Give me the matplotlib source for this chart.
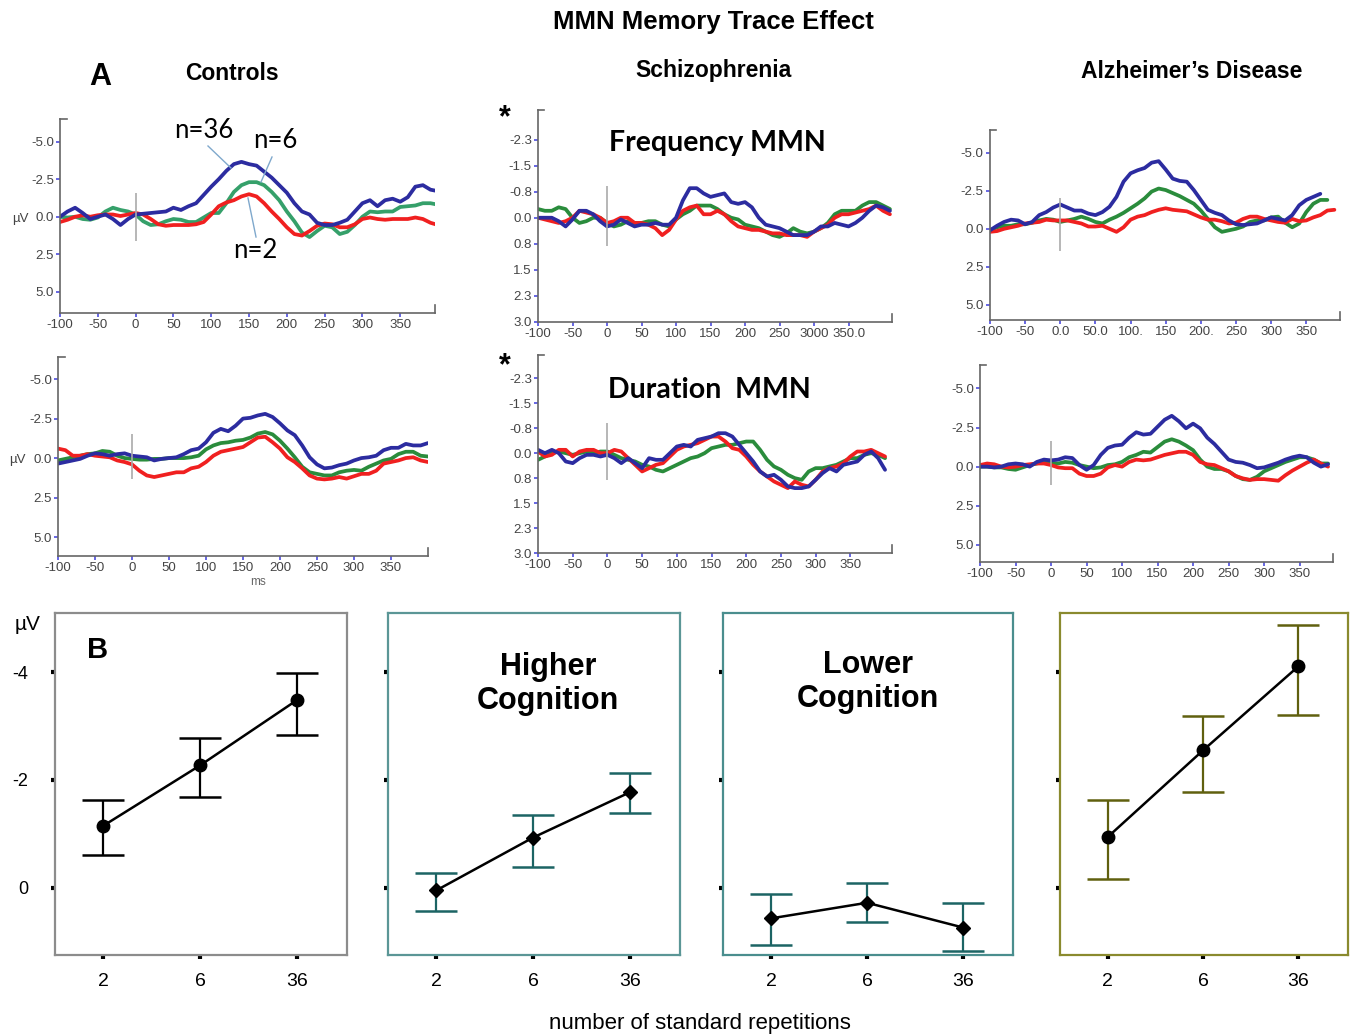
import numpy as np
import matplotlib
matplotlib.use("Agg")
import matplotlib.pyplot as plt
from matplotlib.lines import Line2D

plt.rcParams['font.family'] = ['Liberation Sans', 'DejaVu Sans']

W, H = 1351, 1035

# sampling times (ms) for the ERP traces
t = np.arange(-100, 420, 10)

# ---- A: ERP traces (uV, negative up), n=36 blue, n=6 green, n=2 red ----
ctl_freq_36 = [0.0, -0.35, -0.6, -0.25, 0.15, 0.0, -0.15, 0.15, 0.55, 0.15,
               -0.15, -0.2, -0.25, -0.3, -0.35, -0.6, -0.45, -0.7, -0.9, -1.45,
               -2.0, -2.5, -3.05, -3.5, -3.65, -3.5, -3.4, -3.0, -2.6, -2.1,
               -1.6, -0.9, -0.35, -0.15, 0.4, 0.55, 0.55, 0.4, 0.2, -0.35,
               -0.9, -1.1, -0.7, -1.1, -1.2, -1.0, -1.3, -2.0, -2.1, -1.8, -1.7]
ctl_freq_6 = [0.0, 0.05, 0.0, 0.15, 0.2, 0.05, -0.35, -0.6, -0.45, -0.35,
              -0.15, 0.3, 0.55, 0.5, 0.3, 0.15, 0.2, 0.35, 0.35, 0.05,
              -0.25, -0.25, -0.9, -1.65, -2.1, -2.3, -2.3, -2.1, -1.65, -1.1,
              -0.35, 0.3, 1.05, 1.35, 0.95, 0.6, 0.7, 1.15, 1.0, 0.55,
              0.0, -0.35, -0.3, -0.35, -0.35, -0.65, -0.7, -0.75, -0.9, -0.9, -0.8]
ctl_freq_2 = [0.35, 0.2, 0.0, -0.1, 0.0, -0.1, -0.15, -0.15, -0.05, -0.15,
              -0.25, -0.15, 0.15, 0.5, 0.6, 0.55, 0.55, 0.55, 0.5, 0.35,
              -0.15, -0.7, -0.95, -1.1, -1.35, -1.5, -1.35, -0.9, -0.35, 0.15,
              0.7, 1.15, 1.25, 0.95, 0.6, 0.45, 0.5, 0.7, 0.7, 0.5,
              0.15, 0.05, 0.15, 0.2, 0.15, 0.15, 0.15, 0.05, 0.15, 0.4, 0.55]

scz_freq_36 = [0.0, 0.0, 0.0, 0.1, 0.25, 0.05, -0.2, -0.2, -0.1, 0.1,
               0.25, 0.2, 0.05, 0.15, 0.25, 0.2, 0.2, 0.15, 0.2, 0.2,
               0.0, -0.5, -0.85, -0.85, -0.7, -0.6, -0.65, -0.7, -0.45, -0.4,
               -0.45, -0.3, 0.0, 0.2, 0.25, 0.3, 0.4, 0.5, 0.5, 0.5,
               0.4, 0.25, 0.25, 0.15, 0.2, 0.25, 0.15, 0.0, -0.2, -0.35, -0.3, -0.2]
scz_freq_6 = [-0.25, -0.2, -0.2, -0.3, -0.25, 0.0, 0.15, 0.1, 0.0, 0.0,
              0.15, 0.25, 0.2, 0.1, 0.15, 0.15, 0.1, 0.1, 0.2, 0.25,
              0.05, -0.1, -0.2, -0.35, -0.35, -0.35, -0.25, -0.1, 0.0, 0.05,
              0.2, 0.25, 0.3, 0.4, 0.5, 0.55, 0.45, 0.3, 0.4, 0.45,
              0.4, 0.3, 0.15, -0.1, -0.2, -0.2, -0.2, -0.35, -0.45, -0.45, -0.35, -0.25]
scz_freq_2 = [0.0, 0.05, 0.1, 0.15, 0.1, 0.0, -0.2, -0.15, -0.1, 0.0,
              0.15, 0.1, 0.0, 0.0, 0.15, 0.15, 0.2, 0.3, 0.5, 0.35,
              0.05, -0.2, -0.3, -0.35, -0.1, -0.1, -0.2, -0.1, 0.1, 0.25,
              0.3, 0.35, 0.35, 0.4, 0.45, 0.45, 0.5, 0.5, 0.5, 0.55,
              0.4, 0.3, 0.2, 0.0, -0.1, -0.1, -0.15, -0.2, -0.25, -0.35, -0.2, -0.1]

ad_freq_36 = [0.1, -0.2, -0.45, -0.6, -0.55, -0.3, -0.45, -0.9, -1.1, -1.4,
              -1.6, -1.4, -1.2, -1.2, -1.0, -0.9, -1.1, -1.45, -2.1, -3.1,
              -3.65, -3.85, -4.0, -4.35, -4.45, -3.9, -3.3, -3.15, -3.1, -2.55,
              -1.9, -1.25, -1.05, -0.9, -0.55, -0.3, -0.25, -0.3, -0.35, -0.55,
              -0.75, -0.65, -0.55, -0.9, -1.55, -1.9, -2.1, -2.3]
ad_freq_6 = [0.1, -0.1, -0.2, -0.2, -0.3, -0.3, -0.4, -0.55, -0.65, -0.6,
             -0.45, -0.55, -0.65, -0.8, -0.65, -0.45, -0.35, -0.6, -0.8, -1.05,
             -1.35, -1.65, -2.0, -2.45, -2.65, -2.55, -2.35, -2.15, -1.9, -1.65,
             -1.2, -0.65, -0.1, 0.2, 0.1, 0.0, -0.15, -0.45, -0.55, -0.55,
             -0.75, -0.8, -0.4, -0.1, -0.35, -1.1, -1.65, -1.9, -1.9]
ad_freq_2 = [0.2, 0.15, 0.0, -0.1, -0.2, -0.35, -0.4, -0.45, -0.6, -0.55,
             -0.55, -0.55, -0.45, -0.35, -0.15, -0.15, -0.2, 0.0, 0.2, -0.1,
             -0.6, -0.8, -0.9, -1.1, -1.25, -1.35, -1.25, -1.2, -1.15, -0.95,
             -0.75, -0.6, -0.6, -0.5, -0.35, -0.4, -0.65, -0.8, -0.8, -0.65,
             -0.55, -0.45, -0.4, -0.65, -0.5, -0.55, -0.75, -0.9, -1.2, -1.25]

ctl_dur_36 = [0.35, 0.25, 0.15, 0.05, -0.15, -0.3, -0.25, -0.15, -0.25, -0.3,
              -0.15, -0.1, -0.05, 0.15, 0.05, 0.0, -0.05, -0.25, -0.5, -0.6,
              -1.0, -1.6, -1.85, -1.7, -2.05, -2.5, -2.55, -2.7, -2.8, -2.6,
              -2.2, -1.75, -1.45, -0.8, -0.05, 0.4, 0.65, 0.6, 0.45, 0.35,
              0.15, 0.0, -0.05, -0.15, -0.5, -0.65, -0.65, -0.9, -0.8, -0.8, -0.95]
ctl_dur_6 = [0.15, 0.05, -0.05, -0.15, -0.25, -0.3, -0.45, -0.4, -0.15, 0.0,
             0.05, 0.1, 0.1, 0.05, 0.05, 0.0, 0.0, 0.0, -0.05, -0.15,
             -0.55, -0.8, -0.95, -1.0, -1.1, -1.15, -1.3, -1.55, -1.65, -1.5,
             -1.1, -0.6, -0.05, 0.55, 0.9, 1.0, 1.1, 1.1, 0.9, 0.8,
             0.75, 0.8, 0.55, 0.35, 0.15, 0.05, -0.25, -0.4, -0.4, -0.15, -0.1]
ctl_dur_2 = [-0.6, -0.5, -0.15, -0.15, -0.25, -0.15, -0.1, -0.05, 0.15, 0.25,
             0.4, 0.8, 1.1, 1.2, 1.1, 1.0, 0.9, 0.9, 0.65, 0.55,
             0.25, -0.15, -0.4, -0.5, -0.6, -0.7, -1.0, -1.3, -1.35, -1.0,
             -0.6, -0.05, 0.25, 0.65, 1.1, 1.3, 1.35, 1.3, 1.2, 1.3,
             1.15, 1.0, 1.0, 0.8, 0.35, 0.25, 0.15, 0.0, -0.05, 0.15, 0.25]

scz_dur_36 = [-0.1, 0.0, -0.1, 0.0, 0.25, 0.3, 0.15, 0.05, 0.05, 0.1,
              0.05, 0.15, 0.3, 0.15, 0.3, 0.45, 0.15, 0.2, 0.2, 0.0,
              -0.2, -0.25, -0.2, -0.4, -0.45, -0.5, -0.6, -0.6, -0.5, -0.25,
              0.0, 0.25, 0.55, 0.7, 0.65, 0.8, 1.0, 1.05, 1.05, 1.0,
              0.8, 0.6, 0.45, 0.55, 0.35, 0.3, 0.25, 0.05, -0.05, 0.15, 0.5]
scz_dur_6 = [0.2, 0.1, 0.0, -0.05, 0.0, 0.05, 0.0, -0.05, 0.0, -0.05,
             -0.05, 0.05, 0.15, 0.2, 0.25, 0.35, 0.4, 0.5, 0.55, 0.45,
             0.35, 0.25, 0.15, 0.1, 0.0, -0.15, -0.2, -0.25, -0.25, -0.3,
             -0.35, -0.35, -0.1, 0.2, 0.4, 0.5, 0.65, 0.75, 0.8, 0.55,
             0.45, 0.45, 0.4, 0.35, 0.25, 0.15, 0.15, 0.05, 0.0, 0.05, 0.15]
scz_dur_2 = [-0.05, 0.1, 0.05, -0.1, -0.1, 0.1, -0.05, -0.1, -0.1, 0.0,
             0.0, -0.1, -0.05, 0.15, 0.35, 0.55, 0.45, 0.35, 0.3, 0.1,
             -0.1, -0.2, -0.25, -0.3, -0.4, -0.5, -0.5, -0.35, -0.15, -0.1,
             0.1, 0.35, 0.55, 0.7, 0.85, 0.95, 1.05, 0.85, 0.95, 1.0,
             0.8, 0.55, 0.45, 0.4, 0.3, 0.1, -0.05, -0.05, -0.1, 0.0, 0.1]

ad_dur_36 = [0.0, 0.0, 0.05, 0.0, -0.15, -0.2, -0.15, 0.0, -0.3, -0.45,
             -0.4, -0.45, -0.6, -0.55, -0.1, 0.2, -0.1, -0.75, -1.2, -1.35,
             -1.4, -1.85, -2.2, -2.05, -2.1, -2.55, -3.0, -3.25, -2.9, -2.45,
             -2.75, -2.45, -1.85, -1.45, -0.95, -0.45, -0.3, -0.25, -0.1, 0.1,
             0.05, -0.1, -0.25, -0.45, -0.6, -0.7, -0.6, -0.25, 0.0, -0.15]
ad_dur_6 = [0.0, 0.0, 0.05, 0.05, 0.15, 0.2, 0.05, -0.1, -0.2, -0.3,
            -0.25, -0.2, -0.3, -0.25, -0.1, 0.0, 0.1, 0.05, -0.1, -0.15,
            -0.3, -0.6, -0.75, -0.95, -0.9, -1.25, -1.6, -1.75, -1.6, -1.35,
            -1.05, -0.45, 0.0, 0.15, 0.15, 0.3, 0.6, 0.8, 0.85, 0.65,
            0.3, 0.1, -0.1, -0.3, -0.45, -0.6, -0.6, -0.45, -0.2, -0.2]
ad_dur_2 = [-0.1, -0.2, -0.15, 0.0, 0.05, 0.0, -0.1, -0.15, -0.2, -0.2,
            -0.1, 0.05, 0.1, 0.1, 0.45, 0.6, 0.6, 0.45, 0.05, -0.1,
            0.0, -0.3, -0.45, -0.4, -0.45, -0.6, -0.75, -0.85, -0.95, -0.95,
            -0.75, -0.3, -0.15, -0.1, 0.1, 0.3, 0.6, 0.75, 0.85, 0.8,
            0.8, 0.85, 0.9, 0.55, 0.25, 0.0, -0.25, -0.45, -0.2, 0.0]

# tick labels as printed in the original
x_ticks = [-100, -50, 0, 50, 100, 150, 200, 250, 300, 350]
x_lab_std = ['-100', '-50', '0', '50', '100', '150', '200', '250', '300', '350']
x_lab_scz_freq = ['-100', '-50', '0', '50', '100', '150', '200', '250', '3000', '350.0']
x_lab_ad_freq = ['-100', '-50', '0.0', '50.0', '100.', '150', '200.', '250', '300', '350']
y_ticks_5 = [-5, -2.5, 0, 2.5, 5]
y_lab_5 = ['-5.0', '-2.5', '0.0', '2.5', '5.0']
y_ticks_3 = [-2.25, -1.5, -0.75, 0, 0.75, 1.5, 2.25, 3.0]
y_lab_3 = ['-2.3', '-1.5', '-0.8', '0.0', '0.8', '1.5', '2.3', '3.0']

# ---- B: mean MMN amplitude (uV) with error bars ----
reps = ['2', '6', '36']
ctl_mean = [-1.15, -2.27, -3.48]
ctl_err_up = [0.47, 0.50, 0.50]
ctl_err_dn = [0.55, 0.59, 0.65]
hi_mean = [0.05, -0.93, -1.77]
hi_err_up = [0.32, 0.42, 0.36]
hi_err_dn = [0.38, 0.55, 0.38]
lo_mean = [0.57, 0.28, 0.74]
lo_err_up = [0.45, 0.36, 0.46]
lo_err_dn = [0.50, 0.36, 0.43]
ad_mean = [-0.94, -2.55, -4.11]
ad_err_up = [0.69, 0.64, 0.77]
ad_err_dn = [0.78, 0.78, 0.91]

BLUE, GREEN, RED = '#2c2ca0', '#2a8c3c', '#f02020'


def box(l, tp, r, b):
    return [l / W, 1 - b / H, (r - l) / W, (b - tp) / H]


def fx(px):
    return px / W


def fy(py):
    return 1 - py / H


fig = plt.figure(figsize=(W / 100, H / 100), dpi=100)


def erp_panel(rect, xlim, ylim, yt, ylab, xlab, traces, onset, green=GREEN):
    ax = fig.add_axes(box(*rect))
    for y, c in zip(traces, [green, RED, BLUE]):
        ax.plot(t[:len(y)], y, color=c, lw=2.7, solid_capstyle='round',
                solid_joinstyle='round')
    ax.vlines(0, onset[0], onset[1], color='#aaaaaa', lw=1.2)
    ax.set_xlim(*xlim)
    ax.set_ylim(*ylim)
    ax.set_xticks(x_ticks)
    ax.set_xticklabels(xlab)
    ax.set_yticks(yt)
    ax.set_yticklabels(ylab)
    for s in ['top', 'right']:
        ax.spines[s].set_visible(False)
    for s in ['left', 'bottom']:
        ax.spines[s].set_color('#666666')
        ax.spines[s].set_linewidth(1.2)
    ax.tick_params(direction='out', length=3, width=1.3, color='#5a5ae0',
                   labelsize=9.5, labelcolor='#444444', pad=1.5)
    # small end caps on the axis lines
    ax.plot([0, 0.018], [1, 1], transform=ax.transAxes, color='#666666',
            lw=1.2, clip_on=False)
    ax.plot([1, 1], [0, 0.04], transform=ax.transAxes, color='#666666',
            lw=1.2, clip_on=False)
    return ax


erp_panel((60, 119, 435, 313), (-100, 396), (6.4, -6.5), y_ticks_5, y_lab_5,
          x_lab_std, [ctl_freq_6, ctl_freq_2, ctl_freq_36], (-1.55, 1.6),
          green='#35a06a')
erp_panel((538, 110, 892, 322), (-100, 413), (3.0, -3.1), y_ticks_3, y_lab_3,
          x_lab_scz_freq, [scz_freq_6, scz_freq_2, scz_freq_36], (-0.9, 0.8))
erp_panel((990, 130, 1340, 320), (-100, 398), (6.0, -6.5), y_ticks_5, y_lab_5,
          x_lab_ad_freq, [ad_freq_6, ad_freq_2, ad_freq_36], (-2.05, 1.45))
erp_panel((58, 357, 428, 556), (-100, 400), (6.2, -6.4), y_ticks_5, y_lab_5,
          x_lab_std, [ctl_dur_6, ctl_dur_2, ctl_dur_36], (-1.5, 1.3))
erp_panel((538, 355, 892, 553), (-100, 410), (3.0, -2.95), y_ticks_3, y_lab_3,
          x_lab_std, [scz_dur_6, scz_dur_2, scz_dur_36], (-0.9, 0.8))
erp_panel((980, 365, 1333, 562), (-100, 397), (6.1, -6.5), y_ticks_5, y_lab_5,
          x_lab_std, [ad_dur_6, ad_dur_2, ad_dur_36], (-1.65, 1.2))

# ---- B panels ----
b_specs = [
    ((55, 613, 347, 955), ctl_mean, ctl_err_up, ctl_err_dn, '#8c8c8c', 'black', 'o', 9),
    ((388, 613, 680, 955), hi_mean, hi_err_up, hi_err_dn, '#5b9696', '#1c6464', 'D', 7),
    ((723, 613, 1013, 955), lo_mean, lo_err_up, lo_err_dn, '#4a8e8e', '#1c6464', 'D', 7),
    ((1060, 613, 1348, 955), ad_mean, ad_err_up, ad_err_dn, '#8a8a2e', '#60600f', 'o', 9),
]
for i, (rect, m, eu, ed, edge, ecol, mk, ms) in enumerate(b_specs):
    ax = fig.add_axes(box(*rect))
    xs = np.arange(len(reps))
    ax.errorbar(xs, m, yerr=[eu, ed], fmt='none', ecolor=ecol, elinewidth=1.6,
                capsize=15, capthick=1.8, zorder=2)
    ax.plot(xs, m, color='black', lw=1.8, marker=mk, ms=ms, mfc='black',
            mec='black', zorder=3)
    ax.set_xlim(-0.5, 2.52)
    ax.set_ylim(1.25, -5.1)
    ax.set_xticks(xs)
    ax.set_xticklabels(reps)
    ax.set_yticks([-4, -2, 0])
    if i == 0:
        ax.set_yticklabels(['-4', '-2', '0'])
    else:
        ax.set_yticklabels([])
    for s in ax.spines.values():
        s.set_color(edge)
        s.set_linewidth(1.6)
    ax.tick_params(axis='x', direction='out', length=3, width=3, color='black',
                   labelsize=14, pad=10)
    ax.tick_params(axis='y', direction='out', length=3, width=3, color='black',
                   labelsize=13, pad=16)

# ---- texts ----
fig.text(fx(713), fy(22), 'MMN Memory Trace Effect', ha='center', va='center',
         fontsize=18.5, fontweight='bold')
fig.text(fx(100), fy(77), 'A', ha='center', va='center', fontsize=22, fontweight='bold')
fig.text(fx(232), fy(74), 'Controls', ha='center', va='center', fontsize=16.5,
         fontweight='bold')
fig.text(fx(713), fy(71), 'Schizophrenia', ha='center', va='center', fontsize=16.5,
         fontweight='bold')
fig.text(fx(1192), fy(71), 'Alzheimer’s Disease', ha='center', va='center',
         fontsize=16.5, fontweight='bold')
for py in (118, 366):
    fig.text(fx(505), fy(py), '*', ha='center', va='center', fontsize=22,
             fontweight='bold')
fig.text(fx(717), fy(143), 'Frequency MMN', ha='center', va='center', fontsize=20.5,
         fontweight='bold', family=['Lato', 'DejaVu Sans'])
fig.text(fx(709), fy(390), 'Duration  MMN', ha='center', va='center', fontsize=20.5,
         fontweight='bold', family=['Lato', 'DejaVu Sans'])

# n labels with leader lines
for s, px, py in [('n=36', 204, 130), ('n=6', 275, 141), ('n=2', 255, 250)]:
    fig.text(fx(px), fy(py), s, ha='center', va='center', fontsize=18.5,
             family=['Lato', 'DejaVu Sans'])
for (x0, y0), (x1, y1) in [((208, 146), (231, 168)), ((272, 157), (261, 182)),
                           ((256, 237), (248, 198))]:
    fig.add_artist(Line2D([fx(x0), fx(x1)], [fy(y0), fy(y1)], color='#7fa8cc',
                          lw=1.0, transform=fig.transFigure))

fig.text(fx(20), fy(219), 'µV', ha='center', va='center', fontsize=9.5, color='#444444')
fig.text(fx(17), fy(460), 'µV', ha='center', va='center', fontsize=9.5, color='#444444')
fig.text(fx(258), fy(582), 'ms', ha='center', va='center', fontsize=8.5, color='#666666')

fig.text(fx(28), fy(625), 'µV', ha='center', va='center', fontsize=15)
fig.text(fx(98), fy(650), 'B', ha='center', va='center', fontsize=21, fontweight='bold')
fig.text(fx(548), fy(684), 'Higher\nCognition', ha='center', va='center', fontsize=22,
         fontweight='bold', linespacing=1.2)
fig.text(fx(868), fy(682), 'Lower\nCognition', ha='center', va='center', fontsize=22,
         fontweight='bold', linespacing=1.2)
fig.text(fx(700), fy(1023), 'number of standard repetitions', ha='center', va='center',
         fontsize=16)

fig.savefig('out.png', dpi=100)
